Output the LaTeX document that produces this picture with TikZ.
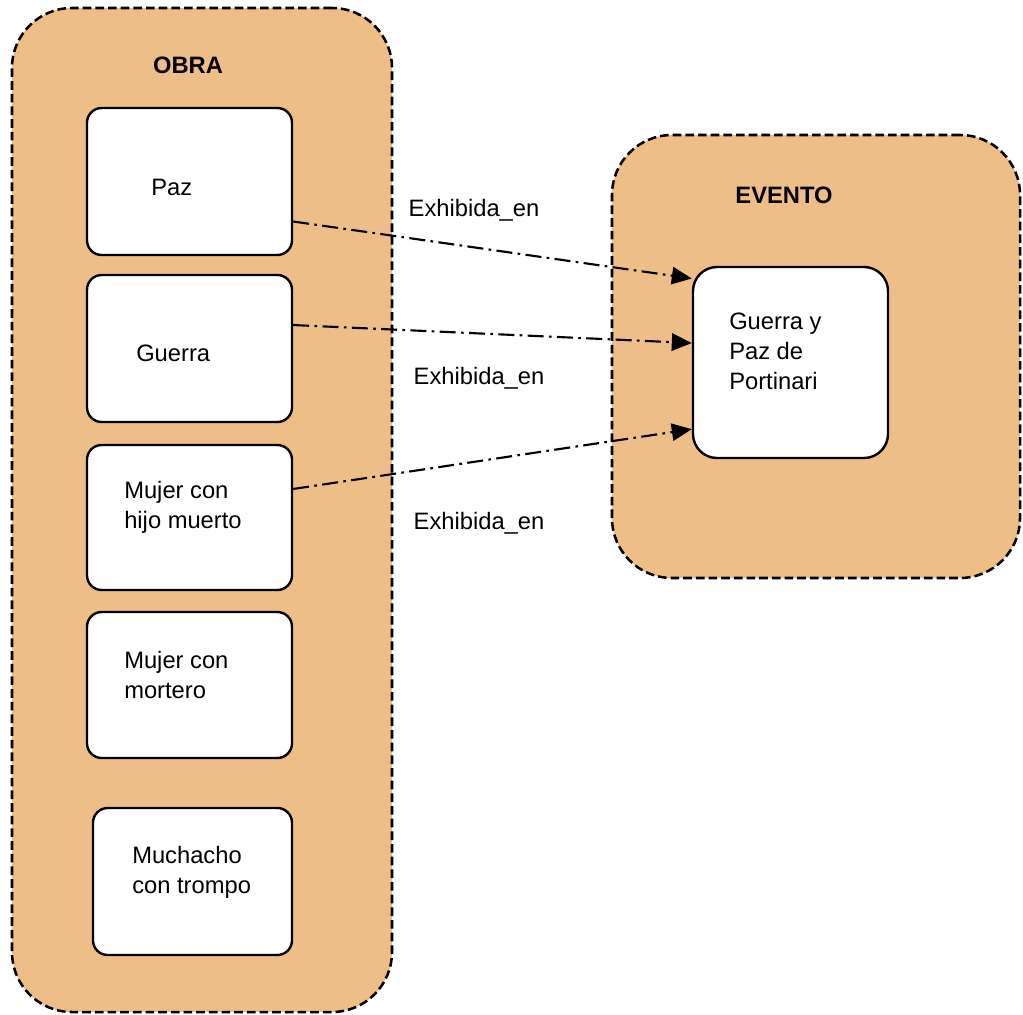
\documentclass[tikz,border=0pt]{standalone}
\usepackage{fontspec}
\setmainfont{Liberation Sans}
\usetikzlibrary{arrows.meta}
\definecolor{sand}{RGB}{238,190,136}
\tikzset{
  group/.style={draw=black, line width=1.9pt, dash pattern=on 6.5pt off 3pt,
    fill=sand, rounded corners=45pt, inner sep=0pt},
  item/.style={draw=black, line width=1.8pt, fill=white, rounded corners=11pt, inner sep=0pt},
  txt/.style={font=\fontsize{17.8pt}{22.5pt}\selectfont, align=left, inner sep=0pt},
  ttl/.style={font=\fontsize{17.8pt}{20pt}\selectfont\bfseries, inner sep=0pt},
  rel/.style={line width=1.6pt, dash pattern=on 12pt off 4pt on 2pt off 4pt,
    -{Triangle[length=15pt,width=13pt]}},
}
\begin{document}
\begin{tikzpicture}[x=0.75pt,y=-0.75pt]
\useasboundingbox (0,0) rectangle (1023,1014);

% containers
\node[group, minimum width=285pt, minimum height=753pt] (obra) at (202,510) {};
\node[group, minimum width=306pt, minimum height=332.25pt] (evento) at (816,356.5) {};
\node[ttl] (obraT) at (188,65) {OBRA};
\node[ttl] (eventoT) at (784,195) {EVENTO};

% works
\node[item, minimum width=153.75pt, minimum height=110.25pt] (paz) at (189.5,181.5) {};
\node[item, minimum width=153.75pt, minimum height=110.25pt] (guerra) at (189.5,348.5) {};
\node[item, minimum width=153.75pt, minimum height=108.75pt] (mujer1) at (189.5,517.5) {};
\node[item, minimum width=153.75pt, minimum height=109.5pt] (mujer2) at (189.5,685) {};
\node[item, minimum width=149.25pt, minimum height=110.25pt] (muchacho) at (192.5,881.5) {};

% event
\node[item, rounded corners=18pt, minimum width=146.25pt, minimum height=143.25pt] (gp) at (790.5,362.5) {};

% labels inside boxes
\node[txt, anchor=west] (pazT) at (151,187) {Paz};
\node[txt, anchor=west] (guerraT) at (136,353) {Guerra};
\node[txt, anchor=west] (mujer1T) at (124,507) {Mujer con\\hijo muerto};
\node[txt, anchor=west] (mujer2T) at (124,675) {Mujer con\\mortero};
\node[txt, anchor=west] (muchachoT) at (132,872) {Muchacho\\con trompo};
\node[txt, anchor=west] (gpT) at (729,351) {Guerra y\\Paz de\\Portinari};

% relations
\draw[rel] ([yshift=-30pt]paz.east) -- ([yshift=63pt]gp.west);
\draw[rel] ([yshift=17.6pt]guerra.east) -- ([yshift=14.6pt]gp.west);
\draw[rel] ([yshift=21.4pt]mujer1.east) -- ([yshift=-50pt]gp.west);

\node[txt] (r1) at (474,210) {Exhibida\_en};
\node[txt] (r2) at (479,378) {Exhibida\_en};
\node[txt] (r3) at (479,523) {Exhibida\_en};
\end{tikzpicture}
\end{document}
